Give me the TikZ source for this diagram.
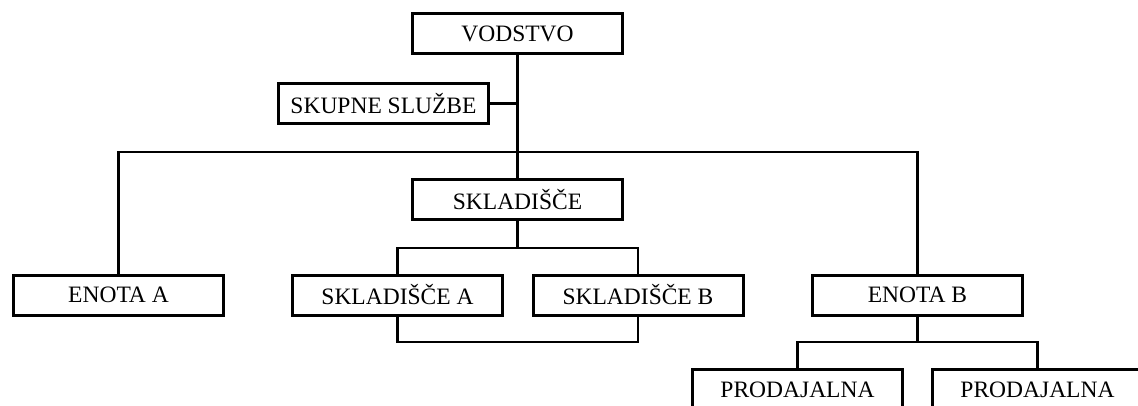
\documentclass[tikz,border=0pt]{standalone}
\usepackage{fontspec}
\setmainfont{Liberation Serif}
\begin{document}
\begin{tikzpicture}[x=1pt,y=1pt,
  unitbox/.style={draw=black,line width=3pt,minimum width=210pt,minimum height=40pt,inner sep=0pt,font=\fontsize{23.5}{26}\selectfont,text=black},
  link/.style={draw=black,line width=2.4pt}]
\clip (0,0) rectangle (1138,-406);
\useasboundingbox (0,0) rectangle (1138,-406);
\node[unitbox] (vod) at (517.5,-34) {VODSTVO};
\node[unitbox] (sks) at (383.5,-103.5) {SKUPNE SLUŽBE};
\node[unitbox] (skl) at (517.5,-199.5) {SKLADIŠČE};
\node[unitbox] (ea) at (118.5,-295) {ENOTA A};
\node[unitbox] (sa) at (397.5,-295) {SKLADIŠČE A};
\node[unitbox] (sb) at (638,-295) {SKLADIŠČE B};
\node[unitbox] (eb) at (917.5,-295) {ENOTA B};
\node[unitbox] (p1) at (797.5,-389.5) {PRODAJALNA};
\node[unitbox] (p2) at (1037.5,-389.5) {PRODAJALNA};
\coordinate (bar) at (517.5,-152);
\coordinate (sklbar) at (517.5,-248);
\coordinate (sklbot) at (517.5,-342);
\coordinate (ebbar) at (917.5,-342);
\draw[link] (vod.south) -- (skl.north);
\draw[link] (sks.east) -- (sks.east -| vod.south);
\draw[link] (ea.north) |- (bar) -| (eb.north);
\draw[link] (skl.south) -- (sklbar);
\draw[link] (sa.north) |- (sklbar) -| (sb.north);
\draw[link] (sa.south) |- (sklbot) -| (sb.south);
\draw[link] (eb.south) -- (ebbar);
\draw[link] (p1.north) |- (ebbar) -| (p2.north);
\end{tikzpicture}
\end{document}
